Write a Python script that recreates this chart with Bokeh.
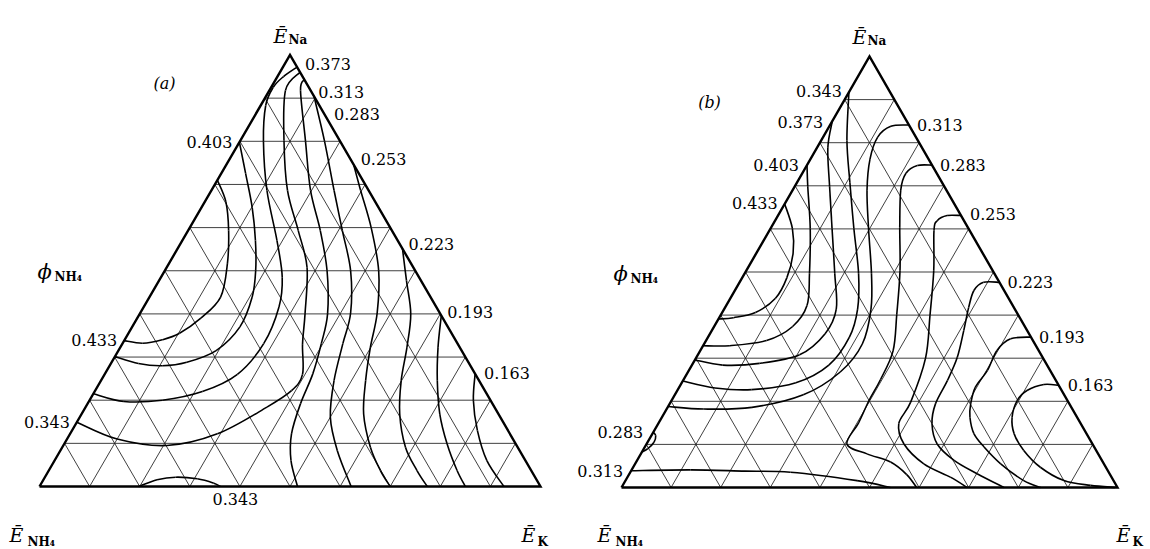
import numpy as np
from bokeh.plotting import figure
from bokeh.models import Range1d
from bokeh.core.properties import value
from bokeh.embed import file_html
from bokeh.resources import INLINE

# Triangular grid fractions (10 divisions per side)
GRID_FRACTIONS = [0.1, 0.2, 0.3, 0.4, 0.5, 0.6, 0.7, 0.8, 0.9]

# ---------------- panel (a): iso-lines, E_Na and E_K fractions, labelled end first
A_433_NA = [0.338, 0.332, 0.340, 0.355, 0.390, 0.439, 0.516, 0.593, 0.660, 0.710]
A_433_K = [0.000, 0.040, 0.075, 0.102, 0.127, 0.142, 0.117, 0.081, 0.042, 0.000]
A_403_NA = [0.798, 0.725, 0.647, 0.570, 0.501, 0.439, 0.370, 0.315, 0.288, 0.280, 0.285, 0.301]
A_403_K = [0.000, 0.049, 0.101, 0.146, 0.181, 0.205, 0.215, 0.195, 0.150, 0.105, 0.055, 0.000]
A_373_NA = [0.972, 0.950, 0.925, 0.883, 0.800, 0.686, 0.570, 0.485, 0.416, 0.331, 0.260, 0.220, 0.200, 0.197, 0.215]
A_373_K = [0.028, 0.012, 0.004, 0.010, 0.047, 0.111, 0.189, 0.242, 0.270, 0.282, 0.265, 0.215, 0.145, 0.070, 0.000]
A_343_NA = [0.149, 0.110, 0.095, 0.122, 0.184, 0.222, 0.260, 0.330, 0.400, 0.508, 0.593, 0.686, 0.802, 0.918, 0.960]
A_343_K = [0.000, 0.100, 0.207, 0.294, 0.362, 0.392, 0.395, 0.360, 0.330, 0.280, 0.220, 0.152, 0.087, 0.032, 0.040]
A_313_NA = [0.943, 0.918, 0.800, 0.686, 0.593, 0.500, 0.400, 0.331, 0.261, 0.192, 0.122, 0.060, 0.000]
A_313_K = [0.057, 0.062, 0.131, 0.198, 0.264, 0.324, 0.375, 0.397, 0.415, 0.425, 0.442, 0.472, 0.515]
A_283_NA = [0.904, 0.800, 0.686, 0.593, 0.500, 0.402, 0.331, 0.246, 0.161, 0.083, 0.000]
A_283_K = [0.096, 0.169, 0.245, 0.308, 0.371, 0.420, 0.440, 0.465, 0.500, 0.553, 0.622]
A_253_NA = [0.746, 0.686, 0.600, 0.500, 0.402, 0.323, 0.246, 0.168, 0.091, 0.037, 0.000]
A_253_K = [0.254, 0.298, 0.362, 0.427, 0.473, 0.499, 0.528, 0.563, 0.615, 0.662, 0.700]
A_223_NA = [0.551, 0.477, 0.400, 0.323, 0.246, 0.168, 0.091, 0.037, 0.000]
A_223_K = [0.449, 0.494, 0.541, 0.572, 0.599, 0.635, 0.685, 0.735, 0.774]
A_193_NA = [0.396, 0.323, 0.246, 0.168, 0.099, 0.037, 0.000]
A_193_K = [0.604, 0.634, 0.671, 0.715, 0.764, 0.815, 0.850]
A_163_NA = [0.261, 0.200, 0.130, 0.060, 0.000]
A_163_K = [0.739, 0.766, 0.809, 0.863, 0.927]
A_343B_NA = [0.000, 0.0077, 0.0178, 0.0216, 0.0155, 0.000]
A_343B_K = [0.361, 0.344, 0.306, 0.261, 0.227, 0.198]

A_LEVELS = ["0.433", "0.403", "0.373", "0.343", "0.313", "0.283", "0.253",
            "0.223", "0.193", "0.163", "0.343"]
A_SERIES = [(A_433_NA, A_433_K), (A_403_NA, A_403_K), (A_373_NA, A_373_K),
            (A_343_NA, A_343_K), (A_313_NA, A_313_K), (A_283_NA, A_283_K),
            (A_253_NA, A_253_K), (A_223_NA, A_223_K), (A_193_NA, A_193_K),
            (A_163_NA, A_163_K), (A_343B_NA, A_343B_K)]

# ---------------- panel (b)
B_433_NA = [0.658, 0.601, 0.544, 0.487, 0.439, 0.406, 0.394, 0.391]
B_433_K = [0.000, 0.044, 0.074, 0.090, 0.091, 0.067, 0.029, 0.000]
B_403_NA = [0.748, 0.699, 0.601, 0.496, 0.422, 0.373, 0.341, 0.329, 0.329]
B_403_K = [0.000, 0.026, 0.080, 0.131, 0.163, 0.158, 0.122, 0.054, 0.000]
B_373_NA = [0.850, 0.788, 0.699, 0.601, 0.496, 0.414, 0.357, 0.308, 0.288, 0.284, 0.296]
B_373_K = [0.000, 0.022, 0.070, 0.124, 0.182, 0.226, 0.232, 0.205, 0.134, 0.062, 0.000]
B_343_NA = [0.917, 0.805, 0.707, 0.601, 0.496, 0.414, 0.349, 0.284, 0.243, 0.227, 0.231, 0.247]
B_343_K = [0.000, 0.052, 0.107, 0.168, 0.230, 0.269, 0.285, 0.276, 0.230, 0.149, 0.073, 0.000]
B_313_NA = [0.841, 0.838, 0.813, 0.762, 0.690, 0.602, 0.496, 0.414, 0.333, 0.268, 0.215, 0.186, 0.182, 0.188]
B_313_K = [0.159, 0.124, 0.110, 0.120, 0.150, 0.197, 0.256, 0.296, 0.319, 0.307, 0.259, 0.170, 0.075, 0.000]
B_283_NA = [0.748, 0.747, 0.729, 0.690, 0.604, 0.503, 0.402, 0.317, 0.250, 0.203, 0.150, 0.101, 0.078, 0.059, 0.030, 0.000]
B_283_K = [0.252, 0.223, 0.209, 0.218, 0.259, 0.310, 0.354, 0.389, 0.397, 0.398, 0.403, 0.404, 0.456, 0.513, 0.560, 0.595]
B_253_NA = [0.631, 0.631, 0.619, 0.596, 0.503, 0.400, 0.300, 0.198, 0.148, 0.101, 0.055, 0.024, 0.000]
B_253_K = [0.369, 0.341, 0.327, 0.332, 0.378, 0.422, 0.463, 0.484, 0.485, 0.519, 0.582, 0.651, 0.697]
B_223_NA = [0.476, 0.476, 0.457, 0.418, 0.364, 0.302, 0.248, 0.194, 0.148, 0.101, 0.063, 0.032, 0.000]
B_223_K = [0.524, 0.492, 0.482, 0.491, 0.508, 0.526, 0.533, 0.536, 0.552, 0.586, 0.639, 0.701, 0.771]
B_193_NA = [0.349, 0.345, 0.318, 0.271, 0.233, 0.194, 0.163, 0.125, 0.094, 0.055, 0.016, 0.000]
B_193_K = [0.651, 0.612, 0.598, 0.602, 0.597, 0.607, 0.621, 0.648, 0.684, 0.737, 0.803, 0.845]
B_163_NA = [0.237, 0.239, 0.225, 0.202, 0.163, 0.125, 0.086, 0.047, 0.016, 0.005, 0.000]
B_163_K = [0.763, 0.732, 0.705, 0.697, 0.706, 0.729, 0.768, 0.821, 0.884, 0.943, 0.995]
B_313L_NA = [0.039, 0.041, 0.038, 0.0355, 0.016, 0.000]
B_313L_K = [0.000, 0.119, 0.230, 0.323, 0.467, 0.542]
B_283L_NA = [0.128, 0.120, 0.105, 0.090, 0.082]
B_283L_K = [0.000, 0.009, 0.013, 0.008, 0.000]

B_LEVELS = ["0.433", "0.403", "0.373", "0.343", "0.313", "0.283", "0.253",
            "0.223", "0.193", "0.163", "0.313", "0.283"]
B_SERIES = [(B_433_NA, B_433_K), (B_403_NA, B_403_K), (B_373_NA, B_373_K),
            (B_343_NA, B_343_K), (B_313_NA, B_313_K), (B_283_NA, B_283_K),
            (B_253_NA, B_253_K), (B_223_NA, B_223_K), (B_193_NA, B_193_K),
            (B_163_NA, B_163_K), (B_313L_NA, B_313L_K), (B_283L_NA, B_283L_K)]

# ---------------- layout (screen pixels)
PANEL_A = dict(left=39.0, right=540.0, base=486.0, height=431.5)
PANEL_B = dict(left=621.0, right=1117.0, base=487.0, height=431.0)

# label placement: alignment and pixel shift from the labelled end of each curve
A_LABEL_STYLE = [("right", -7, -1), ("right", -7, 0), ("left", 8, -3), ("right", -7, 0),
                 ("left", 14, 12), ("left", 20, 18), ("left", 7, -6), ("left", 6, -5),
                 ("left", 6, -4), ("left", 9, -1), ("center", 15, 12)]
B_LABEL_STYLE = [("right", -7, -1), ("right", -8, 0), ("right", -9, 1), ("right", -7, -1),
                 ("left", 8, 0), ("left", 8, 0), ("left", 9, -2), ("left", 8, 0),
                 ("left", 8, 0), ("left", 9, 0), ("right", -8, 0), ("right", -10, 0)]

SERIF = "DejaVu Serif"

p = figure(width=1150, height=549, x_range=Range1d(0, 1150), y_range=Range1d(549, 0),
           x_axis_type=None, y_axis_type=None, output_backend="svg",
           toolbar_location=None, min_border=0)
p.grid.visible = False
p.outline_line_color = None
p.background_fill_color = "white"
p.border_fill_color = "white"


def to_xy(panel, na, k):
    na = np.asarray(na, dtype=float)
    k = np.asarray(k, dtype=float)
    w = panel["right"] - panel["left"]
    x = panel["left"] + (k + na / 2.0) * w
    y = panel["base"] - na * panel["height"]
    return x, y


def draw_grid(panel):
    x0s, y0s, x1s, y1s = [], [], [], []
    for f in GRID_FRACTIONS:
        # constant E_Na
        xa, ya = to_xy(panel, [f, f], [0.0, 1.0 - f])
        # constant E_K
        xb, yb = to_xy(panel, [0.0, 1.0 - f], [f, f])
        # constant E_NH4
        xc, yc = to_xy(panel, [0.0, 1.0 - f], [1.0 - f, 0.0])
        for xs, ys in ((xa, ya), (xb, yb), (xc, yc)):
            x0s.append(xs[0]); y0s.append(ys[0]); x1s.append(xs[1]); y1s.append(ys[1])
    p.segment(x0=x0s, y0=y0s, x1=x1s, y1=y1s, line_color="#1e1e1e", line_width=0.85)
    tx, ty = to_xy(panel, [0.0, 0.0, 1.0, 0.0], [0.0, 1.0, 0.0, 0.0])
    p.line(x=tx, y=ty, line_color="black", line_width=2.4, line_join="miter")


def draw_curve(panel, na, k):
    x, y = to_xy(panel, na, k)
    pts = np.column_stack([x, y])
    n = len(pts)
    seg = {key: [] for key in ("x0", "y0", "x1", "y1", "cx0", "cy0", "cx1", "cy1")}
    for i in range(n - 1):
        pm = pts[i - 1] if i > 0 else pts[i]
        p1, p2 = pts[i], pts[i + 1]
        pp = pts[i + 2] if i + 2 < n else pts[i + 1]
        c1 = p1 + (p2 - pm) / 6.0
        c2 = p2 - (pp - p1) / 6.0
        seg["x0"].append(p1[0]); seg["y0"].append(p1[1])
        seg["x1"].append(p2[0]); seg["y1"].append(p2[1])
        seg["cx0"].append(c1[0]); seg["cy0"].append(c1[1])
        seg["cx1"].append(c2[0]); seg["cy1"].append(c2[1])
    p.bezier(line_color="black", line_width=1.6, **seg)
    return x[0], y[0]


def label(x, y, s, size, style="normal", align="left", baseline="middle"):
    p.text(x=[x], y=[y], text=[s], text_font=value(SERIF), text_font_size=f"{size}px",
           text_font_style=style, text_align=align, text_baseline=baseline,
           text_color="black")


def draw_panel(panel, series, levels, styles):
    draw_grid(panel)
    for (na, k), lev, (align, dx, dy) in zip(series, levels, styles):
        x0, y0 = draw_curve(panel, na, k)
        label(x0 + dx, y0 + dy, lev, 16, align=align)


draw_panel(PANEL_A, A_SERIES, A_LEVELS, A_LABEL_STYLE)
draw_panel(PANEL_B, B_SERIES, B_LEVELS, B_LABEL_STYLE)

# corner and side titles: (letter position, subscript position) per panel
TITLES = [
    dict(na=((273, 35), (288, 39)), phi=((37, 271), (54, 276)),
         nh4=((9, 534), (27, 541)), k=((521, 534), (537, 541)), tag=((164, 83), "(a)")),
    dict(na=((852, 36), (867, 40)), phi=((613, 273), (630, 278)),
         nh4=((597, 534), (615, 541)), k=((1116, 534), (1132, 541)), tag=((709, 102), "(b)")),
]
for t in TITLES:
    (ex, ey), (sx, sy) = t["na"]
    label(ex, ey, "Ē", 19, "italic", baseline="alphabetic")
    label(sx, sy, "Na", 12, "bold", baseline="alphabetic")
    (ex, ey), (sx, sy) = t["phi"]
    label(ex, ey, "ϕ", 21, "italic", baseline="alphabetic")
    label(sx, sy, "NH₄", 12, "bold", baseline="alphabetic")
    (ex, ey), (sx, sy) = t["nh4"]
    label(ex, ey, "Ē", 19, "italic", baseline="alphabetic")
    label(sx, sy, "NH₄", 12, "bold", baseline="alphabetic")
    (ex, ey), (sx, sy) = t["k"]
    label(ex, ey, "Ē", 19, "italic", baseline="alphabetic")
    label(sx, sy, "K", 12, "bold", baseline="alphabetic")
    (tx, ty), s = t["tag"]
    label(tx, ty, s, 16, "italic", align="center")

open("out.html", "w").write(file_html(p, INLINE))
